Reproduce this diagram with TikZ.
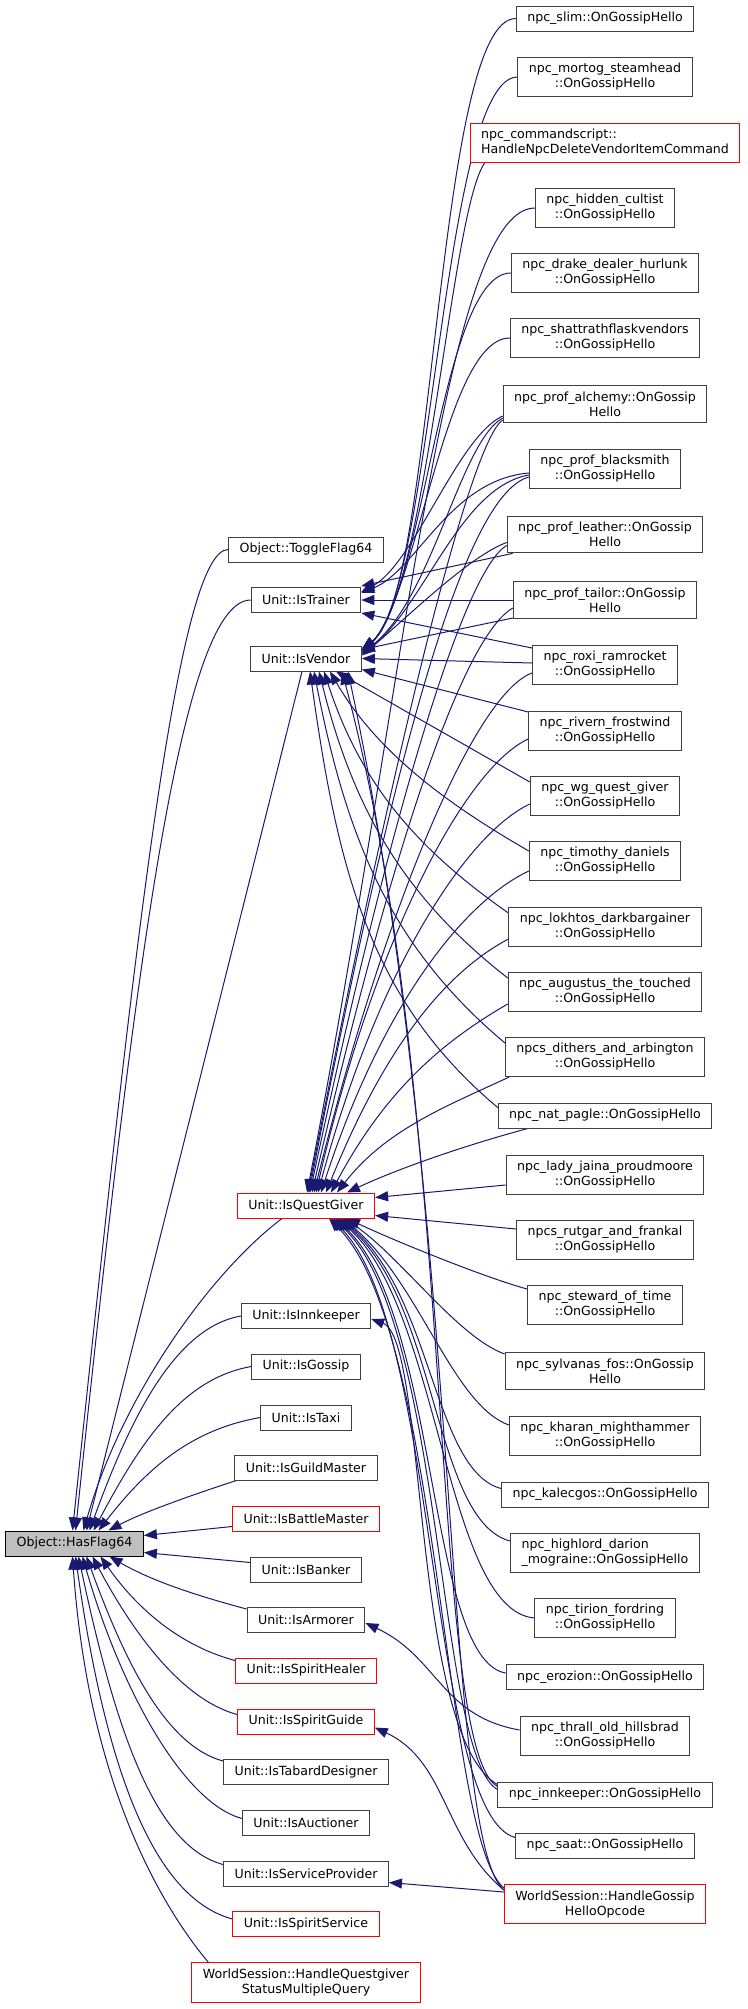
\documentclass[tikz,border=0pt]{standalone}
\usepackage{fontspec}
\setmainfont{DejaVu Sans}
\usetikzlibrary{arrows.meta}
\definecolor{midnight}{HTML}{191970}
\pgfdeclarelayer{edges}
\pgfsetlayers{edges,main}
\tikzset{
  func/.style={draw=black!75, fill=white, line width=0.5pt, font=\fontsize{6.3pt}{7.5pt}\selectfont,
    inner xsep=5.5pt, inner ysep=3pt, minimum height=12.5pt, align=center},
  funcred/.style={func, draw=red},
  funcroot/.style={func, draw=black, fill=black!25},
  call/.style={draw=midnight, line width=0.5pt, ->, >={Triangle[length=6.5pt,width=5pt]}}
}
\begin{document}
\begin{tikzpicture}[x=0.5pt,y=0.5pt]
\useasboundingbox (0,0) rectangle (748,-2009);

% root and direct callers
\node[funcroot] (flag) at (74.5,-1543.5) {Object::HasFlag64};
\node[func] (toggle) at (306,-549.5) {Object::ToggleFlag64};
\node[func] (trainer) at (306,-600) {Unit::IsTrainer};
\node[func] (vendor) at (306,-658.5) {Unit::IsVendor};
\node[funcred] (qg) at (306,-1205.5) {Unit::IsQuestGiver};
\node[func] (inn) at (306,-1316) {Unit::IsInnkeeper};
\node[func] (gossip) at (306,-1366.5) {Unit::IsGossip};
\node[func] (taxi) at (306,-1417.5) {Unit::IsTaxi};
\node[func] (guild) at (306,-1467.5) {Unit::IsGuildMaster};
\node[funcred] (battle) at (306,-1518.5) {Unit::IsBattleMaster};
\node[func] (banker) at (306,-1569.5) {Unit::IsBanker};
\node[func] (armorer) at (306,-1620) {Unit::IsArmorer};
\node[funcred] (healer) at (306,-1670.5) {Unit::IsSpiritHealer};
\node[funcred] (guide) at (306,-1721.5) {Unit::IsSpiritGuide};
\node[func] (tabard) at (306,-1772) {Unit::IsTabardDesigner};
\node[func] (auction) at (306,-1822.5) {Unit::IsAuctioner};
\node[func] (service) at (306,-1873.5) {Unit::IsServiceProvider};
\node[funcred] (spiritsvc) at (306,-1924) {Unit::IsSpiritService};
\node[funcred] (qstatus) at (306,-1982.5) {WorldSession::HandleQuestgiver\\StatusMultipleQuery};

% second level callers
\node[func] (slim) at (605,-18.5) {npc\_slim::OnGossipHello};
\node[func] (mortog) at (605,-77) {npc\_mortog\_steamhead\\::OnGossipHello};
\node[funcred, align=left] (cmd) at (605,-143) {npc\_commandscript::\\HandleNpcDeleteVendorItemCommand};
\node[func] (cultist) at (605,-208) {npc\_hidden\_cultist\\::OnGossipHello};
\node[func] (drake) at (605,-273) {npc\_drake\_dealer\_hurlunk\\::OnGossipHello};
\node[func] (shatt) at (605,-338) {npc\_shattrathflaskvendors\\::OnGossipHello};
\node[func] (alchemy) at (605,-404) {npc\_prof\_alchemy::OnGossip\\Hello};
\node[func] (smith) at (605,-469) {npc\_prof\_blacksmith\\::OnGossipHello};
\node[func] (leather) at (605,-534.5) {npc\_prof\_leather::OnGossip\\Hello};
\node[func] (tailor) at (605,-600) {npc\_prof\_tailor::OnGossip\\Hello};
\node[func] (roxi) at (605,-665) {npc\_roxi\_ramrocket\\::OnGossipHello};
\node[func] (rivern) at (605,-731) {npc\_rivern\_frostwind\\::OnGossipHello};
\node[func] (wg) at (605,-796) {npc\_wg\_quest\_giver\\::OnGossipHello};
\node[func] (timothy) at (605,-861) {npc\_timothy\_daniels\\::OnGossipHello};
\node[func] (lokhtos) at (605,-927) {npc\_lokhtos\_darkbargainer\\::OnGossipHello};
\node[func] (augustus) at (605,-992) {npc\_augustus\_the\_touched\\::OnGossipHello};
\node[func] (dithers) at (605,-1057) {npcs\_dithers\_and\_arbington\\::OnGossipHello};
\node[func] (pagle) at (605,-1115.5) {npc\_nat\_pagle::OnGossipHello};
\node[func] (jaina) at (605,-1175) {npc\_lady\_jaina\_proudmoore\\::OnGossipHello};
\node[func] (rutgar) at (605,-1240) {npcs\_rutgar\_and\_frankal\\::OnGossipHello};
\node[func] (steward) at (605,-1305) {npc\_steward\_of\_time\\::OnGossipHello};
\node[func] (sylvanas) at (605,-1371) {npc\_sylvanas\_fos::OnGossip\\Hello};
\node[func] (kharan) at (605,-1436) {npc\_kharan\_mighthammer\\::OnGossipHello};
\node[func] (kalecgos) at (605,-1494.5) {npc\_kalecgos::OnGossipHello};
\node[func, align=left] (darion) at (605,-1553) {npc\_highlord\_darion\\\_mograine::OnGossipHello};
\node[func] (tirion) at (605,-1618) {npc\_tirion\_fordring\\::OnGossipHello};
\node[func] (erozion) at (605,-1677) {npc\_erozion::OnGossipHello};
\node[func] (thrall) at (605,-1736) {npc\_thrall\_old\_hillsbrad\\::OnGossipHello};
\node[func] (innkeeper) at (605,-1794.5) {npc\_innkeeper::OnGossipHello};
\node[func] (saat) at (605,-1845.5) {npc\_saat::OnGossipHello};
\node[funcred] (hello) at (605,-1904) {WorldSession::HandleGossip\\HelloOpcode};

\begin{pgfonlayer}{edges}
% into HasFlag64
\draw[call] (toggle.west) to[out=180,in=84,out distance=25,in distance=300] ([xshift=-1]flag.north);
\draw[call] (trainer.west) to[out=180,in=84,out distance=35,in distance=280] ([xshift=0.5]flag.north);
\draw[call] ([xshift=-2]vendor.south) -- ([xshift=6]flag.north);
\draw[call] ([xshift=-12]qg.south) to[out=217,in=74,out distance=45,in distance=70] ([xshift=4.5]flag.north);
\draw[call] (inn.west) to[out=190,in=70,out distance=35,in distance=55] ([xshift=7.5]flag.north);
\draw[call] (gossip.west) to[out=190,in=62,out distance=35,in distance=50] ([xshift=9.5]flag.north);
\draw[call] (taxi.west) to[out=190,in=52,out distance=35,in distance=40] ([xshift=12]flag.north);
\draw[call] ([xshift=1]guild.south west) to[out=198,in=28,out distance=20,in distance=20] ([xshift=17]flag.north);
\draw[call] ([yshift=-4]battle.west) -- ([yshift=4]flag.east);
\draw[call] ([yshift=3.5]banker.west) -- ([yshift=-4.5]flag.east);
\draw[call] ([yshift=5.5]armorer.west) to[out=165,in=-30,out distance=25,in distance=25] ([xshift=17.5]flag.south);
\draw[call] ([yshift=5]healer.west) to[out=165,in=-55,out distance=30,in distance=30] ([xshift=13]flag.south);
\draw[call] ([yshift=3.5]guide.west) to[out=165,in=-62,out distance=30,in distance=40] ([xshift=9]flag.south);
\draw[call] ([yshift=5.5]tabard.west) to[out=165,in=-70,out distance=30,in distance=55] ([xshift=6]flag.south);
\draw[call] ([yshift=2]auction.west) to[out=165,in=-74,out distance=30,in distance=70] ([xshift=4]flag.south);
\draw[call] ([yshift=4.5]service.west) to[out=165,in=-78,out distance=35,in distance=90] ([xshift=2]flag.south);
\draw[call] ([yshift=2.5]spiritsvc.west) to[out=165,in=-82,out distance=40,in distance=110] ([xshift=0.5]flag.south);
\draw[call] ([xshift=8.5]qstatus.north west) to[out=130,in=-86,out distance=30,in distance=120] ([xshift=-1]flag.south);

% into IsTrainer
\draw[call] ([yshift=-6]alchemy.west) to[out=205,in=28,out distance=25,in distance=30] ([yshift=4]trainer.east);
\draw[call] ([yshift=-2]smith.west) to[out=185,in=22,out distance=40,in distance=30] ([yshift=3.5]trainer.east);
\draw[call] ([xshift=3]leather.south west) -- ([yshift=7]trainer.east);
\draw[call] (tailor.west) -- (trainer.east);
\draw[call] ([yshift=8.5]roxi.west) -- ([yshift=-6.5]trainer.east);

% into IsVendor
\draw[call] (slim.west) to[out=180,in=35,out distance=40,in distance=45] ([yshift=5]vendor.east);
\draw[call] (mortog.west) to[out=180,in=38,out distance=37.5,in distance=45] ([yshift=4.5]vendor.east);
\draw[call] ([xshift=7.5]cmd.south west) to[out=235,in=40,out distance=30,in distance=42.5] ([yshift=4]vendor.east);
\draw[call] (drake.west) to[out=180,in=42,out distance=35,in distance=42.5] ([yshift=3.5]vendor.east);
\draw[call] (shatt.west) to[out=180,in=45,out distance=32.5,in distance=40] ([yshift=3]vendor.east);
\draw[call] ([yshift=-7]alchemy.west) to[out=210,in=38,out distance=25,in distance=45] ([yshift=2.5]vendor.east);
\draw[call] ([yshift=-3]smith.west) to[out=190,in=38,out distance=35,in distance=40] ([yshift=2]vendor.east);
\draw[call] ([yshift=-4]leather.west) to[out=200,in=40,out distance=20,in distance=30] ([yshift=1.5]vendor.east);
\draw[call] ([yshift=-9]tailor.west) -- ([yshift=4.5]vendor.east);
\draw[call] ([yshift=1]roxi.west) -- (vendor.east);
\draw[call] ([yshift=9.5]rivern.west) -- ([yshift=-5.5]vendor.east);
\draw[call] ([yshift=7]wg.west) -- ([xshift=15]vendor.south);
\draw[call] ([yshift=5]timothy.west) to[out=150,in=-60,out distance=40,in distance=50] ([xshift=12]vendor.south);
\draw[call] ([yshift=7]lokhtos.west) to[out=145,in=-72,out distance=55,in distance=60] ([xshift=9]vendor.south);
\draw[call] ([yshift=7]augustus.west) to[out=142,in=-76,out distance=65,in distance=72.5] ([xshift=6.5]vendor.south);
\draw[call] ([yshift=7]dithers.west) to[out=140,in=-79,out distance=75,in distance=85] ([xshift=4]vendor.south);
\draw[call] ([yshift=4]pagle.west) to[out=140,in=-82,out distance=85,in distance=97.5] ([xshift=2]vendor.south);
\draw[call] ([yshift=4]innkeeper.west) to[out=150,in=-75,out distance=40,in distance=225] ([xshift=18]vendor.south);
\draw[call] ([yshift=7]hello.west) to[out=140,in=-78,out distance=40,in distance=275] ([xshift=21]vendor.south);

% into IsQuestGiver from above
\draw[call] (cultist.west) to[out=180,in=79,out distance=45,in distance=260] ([xshift=0.5]qg.north);
\draw[call] ([yshift=-8]alchemy.west) to[out=215,in=79,out distance=20,in distance=225] ([xshift=1]qg.north);
\draw[call] ([yshift=-4]smith.west) to[out=195,in=79,out distance=35,in distance=210] ([xshift=1.5]qg.north);
\draw[call] ([yshift=-5.5]leather.west) to[out=210,in=78,out distance=25,in distance=190] ([xshift=2]qg.north);
\draw[call] ([yshift=-4]tailor.west) to[out=210,in=77,out distance=30,in distance=170] ([xshift=3]qg.north);
\draw[call] ([yshift=-4]roxi.west) to[out=200,in=76,out distance=30,in distance=150] ([xshift=4]qg.north);
\draw[call] ([yshift=-4]rivern.west) to[out=205,in=77,out distance=35,in distance=130] ([xshift=5]qg.north);
\draw[call] ([yshift=-4]wg.west) to[out=205,in=75,out distance=35,in distance=115] ([xshift=6]qg.north);
\draw[call] ([yshift=-5]timothy.west) to[out=205,in=72,out distance=35,in distance=100] ([xshift=7.5]qg.north);
\draw[call] ([yshift=-6]lokhtos.west) to[out=208,in=68,out distance=35,in distance=80] ([xshift=10]qg.north);
\draw[call] ([yshift=-6]augustus.west) to[out=210,in=62,out distance=35,in distance=60] ([xshift=12.5]qg.north);
\draw[call] ([xshift=2]dithers.south west) to[out=205,in=52,out distance=35,in distance=40] ([xshift=15.5]qg.north);
\draw[call] ([xshift=15]pagle.south west) to[out=195,in=25,out distance=30,in distance=30] ([xshift=20.5]qg.north);
\draw[call] ([yshift=-5]jaina.west) -- ([yshift=4]qg.east);
\draw[call] ([yshift=5.5]rutgar.west) -- ([yshift=-5]qg.east);

% into IsQuestGiver from below
\draw[call] ([yshift=8]steward.west) to[out=165,in=-25,out distance=20,in distance=30] ([xshift=20.5]qg.south);
\draw[call] ([yshift=8.5]sylvanas.west) to[out=160,in=-35,out distance=25,in distance=35] ([xshift=19.5]qg.south);
\draw[call] ([yshift=5.5]kharan.west) to[out=160,in=-40,out distance=30,in distance=50] ([xshift=18.5]qg.south);
\draw[call] ([yshift=3]kalecgos.west) to[out=165,in=-40,out distance=35,in distance=60] ([xshift=17.5]qg.south);
\draw[call] ([yshift=6]darion.west) to[out=165,in=-40,out distance=40,in distance=65] ([xshift=16.5]qg.south);
\draw[call] (tirion.west) to[out=175,in=-40,out distance=45,in distance=67.5] ([xshift=15.5]qg.south);
\draw[call] ([yshift=2]erozion.west) to[out=170,in=-42,out distance=40,in distance=70] ([xshift=14.5]qg.south);
\draw[call] ([yshift=2.5]innkeeper.west) to[out=150,in=-42,out distance=35,in distance=75] ([xshift=13.5]qg.south);
\draw[call] ([yshift=4]saat.west) to[out=165,in=-44,out distance=45,in distance=75] ([xshift=12.5]qg.south);
\draw[call] ([yshift=8]hello.west) to[out=140,in=-45,out distance=40,in distance=80] ([xshift=11.5]qg.south);

% other callees
\draw[call] ([yshift=5]innkeeper.west) to[out=150,in=-20,out distance=50,in distance=30] ([yshift=-1.5]inn.east);
\draw[call] ([yshift=3]thrall.west) to[out=170,in=-25,out distance=40,in distance=40] ([yshift=-1.5]armorer.east);
\draw[call] ([yshift=7]hello.west) to[out=140,in=-25,out distance=40,in distance=40] ([yshift=-3]guide.east);
\draw[call] ([yshift=6]hello.west) -- ([yshift=-4.5]service.east);
\end{pgfonlayer}
\end{tikzpicture}
\end{document}
